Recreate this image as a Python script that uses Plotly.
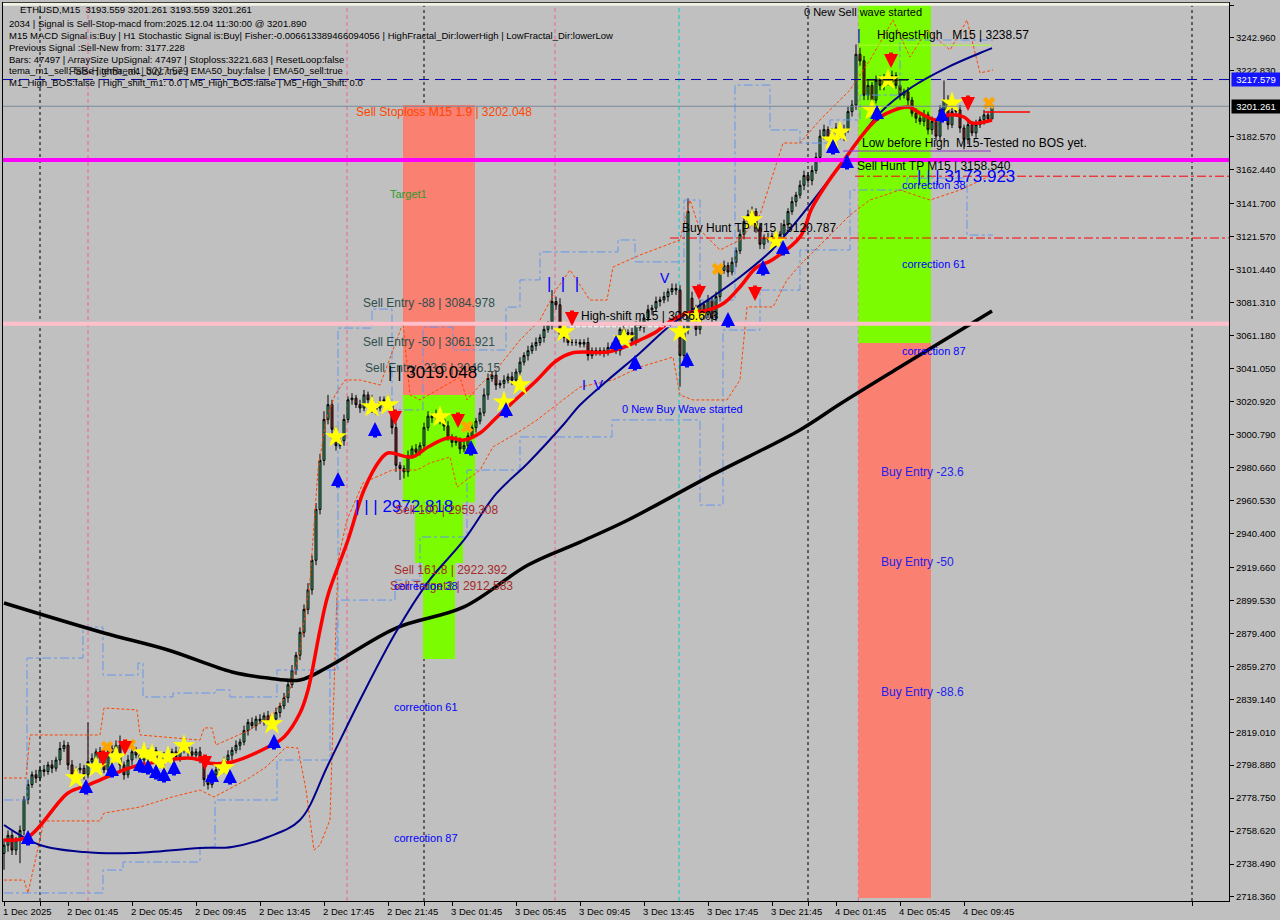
import plotly.graph_objects as go

# ---------------- data ----------------
time_label_bars = [0, 16, 32, 48, 64, 80, 96, 112, 128, 144, 160, 176, 192, 208, 224, 240]
time_labels = ["1 Dec 2025", "2 Dec 01:45", "2 Dec 05:45", "2 Dec 09:45", "2 Dec 13:45",
               "2 Dec 17:45", "2 Dec 21:45", "3 Dec 01:45", "3 Dec 05:45", "3 Dec 09:45",
               "3 Dec 13:45", "3 Dec 17:45", "3 Dec 21:45", "4 Dec 01:45", "4 Dec 05:45",
               "4 Dec 09:45"]
day_sep_bars = [9, 105, 201, 297]
y_ticks = [3263.090, 3242.960, 3222.830, 3182.570, 3162.440, 3141.700, 3121.570, 3101.440,
           3081.310, 3061.180, 3041.050, 3020.920, 3000.790, 2980.660, 2960.530, 2940.400,
           2919.660, 2899.530, 2879.400, 2859.270, 2839.140, 2819.010, 2798.880, 2778.750,
           2758.620, 2738.490, 2718.360]

first_open = 2745.0
closes = [
    2750, 2756, 2747, 2753, 2759, 2778, 2787, 2793, 2791, 2796,
    2795, 2799, 2797, 2802, 2809, 2811, 2799, 2793, 2796, 2797,
    2793, 2801, 2803, 2807, 2803, 2796, 2807, 2809, 2811, 2799,
    2793, 2802, 2807, 2805, 2802, 2807, 2805, 2808, 2803, 2801,
    2805, 2803, 2807, 2804, 2808, 2810, 2807, 2805, 2807, 2802,
    2790, 2787, 2793, 2796, 2797, 2802, 2805, 2808, 2811, 2813,
    2820, 2825, 2823, 2827, 2826, 2829, 2825, 2827, 2831, 2835,
    2840, 2848, 2857, 2866, 2880, 2894, 2906, 2924, 2955, 2985,
    3010, 3019, 3004, 2994, 2997, 3010, 3022, 3023, 3019, 3017,
    3025, 3022, 3016, 3017, 3021, 3022, 3019, 3005, 2982, 2980,
    2978, 2988, 2992, 2990, 2994, 3005, 3012, 3011, 3013, 3010,
    3006, 2999, 2996, 2997, 2992, 2994, 3000, 3005, 3009, 3014,
    3025, 3035, 3037, 3031, 3032, 3034, 3036, 3034, 3039, 3045,
    3049, 3052, 3055, 3057, 3060, 3065, 3068, 3082, 3080, 3062,
    3060, 3057, 3057, 3057, 3056, 3057, 3049, 3052, 3051, 3052,
    3051, 3054, 3055, 3052, 3065, 3062, 3063, 3058, 3068, 3066,
    3072, 3077, 3078, 3082, 3083, 3085, 3088, 3090, 3089, 3049,
    3065, 3137, 3077, 3065, 3080, 3074, 3083, 3072, 3085, 3101,
    3104, 3100, 3106, 3113, 3123, 3131, 3135, 3137, 3127, 3117,
    3121, 3120, 3122, 3120, 3123, 3129, 3137, 3143, 3147, 3153,
    3159, 3156, 3162, 3170, 3183, 3187, 3181, 3185, 3188, 3183,
    3187, 3198, 3202, 3233, 3229, 3208, 3214, 3205, 3217, 3214,
    3218, 3216, 3220, 3214, 3208, 3210, 3205, 3197, 3194, 3192,
    3196, 3187, 3192, 3183, 3199, 3205, 3190, 3198, 3199, 3188,
    3181, 3190, 3185, 3190, 3193, 3196, 3193.559, 3201.261,
]
open_gaps = {172: 3084.0}
up_wick = [
    4, 3, 3, 2, 3, 2, 3, 2, 3, 2,
    3, 2, 3, 2, 4, 3, 2, 3, 2, 3,
    2, 24, 3, 2, 3, 2, 3, 2, 3, 6,
    2, 3, 2, 3, 2, 3, 2, 3, 2, 3,
    2, 3, 2, 3, 2, 3, 2, 3, 2, 3,
    2, 3, 2, 2, 3, 2, 3, 2, 3, 2,
    3, 2, 3, 2, 3, 2, 3, 2, 3, 2,
    3, 2, 3, 2, 3, 3, 4, 3, 4, 4,
    5, 6, 3, 2, 3, 3, 2, 3, 2, 3,
    3, 2, 3, 2, 3, 2, 3, 2, 3, 2,
    2, 3, 2, 3, 2, 3, 3, 2, 3, 2,
    2, 3, 2, 3, 2, 3, 2, 3, 2, 3,
    4, 3, 2, 3, 2, 3, 2, 3, 2, 3,
    2, 3, 2, 3, 2, 3, 2, 7, 3, 4,
    2, 2, 2, 2, 2, 2, 3, 2, 2, 2,
    2, 3, 2, 3, 2, 3, 2, 3, 2, 3,
    2, 3, 2, 3, 2, 3, 2, 3, 3, 3,
    3, 8, 4, 3, 3, 2, 3, 2, 3, 3,
    3, 2, 3, 2, 3, 2, 3, 3, 2, 3,
    2, 3, 2, 3, 2, 3, 2, 3, 2, 3,
    3, 2, 3, 3, 4, 3, 2, 3, 3, 2,
    3, 3, 3, 6, 4, 3, 3, 2, 3, 3,
    3, 3, 3, 2, 3, 2, 3, 2, 3, 2,
    3, 2, 3, 2, 3, 12, 3, 3, 2, 3,
    2, 3, 2, 3, 2, 3, 2, 0,
]
dn_wick = [
    10, 4, 3, 3, 14, 3, 3, 2, 3, 2,
    3, 2, 3, 2, 3, 2, 3, 2, 3, 2,
    3, 2, 3, 2, 3, 2, 3, 2, 3, 4,
    3, 2, 3, 2, 3, 2, 3, 2, 3, 2,
    3, 2, 3, 2, 3, 2, 3, 2, 3, 2,
    4, 3, 2, 3, 2, 3, 2, 3, 2, 3,
    2, 3, 2, 3, 2, 3, 2, 3, 2, 3,
    2, 3, 2, 3, 3, 3, 3, 3, 3, 3,
    3, 3, 6, 3, 2, 3, 2, 3, 2, 3,
    2, 3, 2, 3, 2, 3, 2, 4, 4, 7,
    4, 3, 2, 3, 2, 3, 2, 3, 2, 3,
    3, 2, 3, 2, 3, 2, 3, 2, 3, 2,
    2, 3, 2, 3, 2, 3, 2, 3, 2, 3,
    2, 3, 2, 3, 2, 3, 2, 3, 3, 3,
    3, 2, 2, 2, 2, 2, 3, 2, 2, 2,
    3, 2, 3, 2, 3, 2, 3, 2, 3, 2,
    3, 2, 3, 2, 3, 2, 3, 2, 3, 19,
    4, 3, 8, 4, 3, 3, 2, 3, 2, 3,
    2, 3, 2, 3, 2, 3, 2, 3, 3, 3,
    3, 2, 3, 2, 3, 2, 3, 2, 3, 2,
    3, 2, 3, 2, 3, 2, 3, 2, 3, 2,
    3, 2, 3, 3, 3, 3, 3, 3, 2, 3,
    3, 2, 3, 2, 3, 2, 3, 2, 3, 2,
    3, 3, 3, 3, 3, 3, 3, 2, 3, 3,
    6, 3, 2, 3, 2, 3, 2, 0,
]

# moving averages (sampled)
ma200_bars = [0, 25, 41, 57, 66, 74, 81, 98, 115, 131, 144, 156, 176, 199, 209, 224, 247]
ma200_vals = [2897.9, 2879.6, 2869.2, 2855.8, 2852.1, 2850.9, 2858.8, 2882.6, 2895.5, 2921.1,
              2935.1, 2948.6, 2974.8, 3003.6, 3019.4, 3042.0, 3076.2]
ema50_bars = [0, 9, 20, 32, 49, 57, 66, 74, 81, 89, 98, 106, 115, 123, 131, 140, 144, 151,
              159, 167, 176, 184, 192, 199, 210, 219, 227, 236, 244, 247]
ema50_vals = [2762.3, 2750.1, 2745.8, 2745.2, 2748.3, 2748.9, 2755.0, 2765.4, 2799.0, 2838.7,
              2880.2, 2910.7, 2936.4, 2964.5, 2983.4, 3007.2, 3018.8, 3034.1, 3050.6, 3068.3,
              3083.0, 3097.0, 3113.5, 3133.6, 3168.4, 3197.2, 3213.0, 3225.2, 3233.8, 3236.8]
ema20_bars = [0, 6, 16, 21, 24, 32, 41, 46, 49, 51, 57, 66, 70, 74, 76, 79, 81, 86, 90, 94,
              96, 102, 106, 111, 115, 119, 123, 127, 133, 138, 142, 151, 155, 159, 163, 167,
              171, 176, 180, 184, 188, 192, 199, 202, 206, 210, 215, 219, 226, 229, 233, 236,
              240, 242, 247]
ema20_vals = [2753.2, 2755.0, 2781.9, 2786.7, 2789.8, 2797.7, 2802.0, 2803.2, 2802.0, 2800.2,
              2800.8, 2810.0, 2816.1, 2830.7, 2844.8, 2881.4, 2902.8, 2936.4, 2966.9, 2985.2,
              2989.5, 2987.1, 2993.2, 2998.7, 2997.4, 3001.7, 3010.9, 3020.0, 3033.5, 3045.7,
              3050.6, 3051.2, 3054.2, 3058.5, 3063.4, 3070.7, 3075.0, 3076.8, 3081.1, 3090.9,
              3102.5, 3107.4, 3121.4, 3139.1, 3155.0, 3168.4, 3184.9, 3194.7, 3200.8, 3197.1,
              3192.9, 3195.9, 3194.7, 3191.0, 3192.9]

# envelope-like dashed bands
band_up_bars = [0, 5.5, 6.5, 24, 25, 33.25, 34, 49, 50, 52, 53, 61.5, 67.75, 71.5, 74, 76.5,
                78.5, 80.5, 82.75, 85.25, 89, 94, 99.75, 101.5, 104, 114, 115.75, 119, 124,
                129, 134, 138, 141.5, 146.5, 150.75, 152.25, 159, 169, 171.5, 174, 179, 184,
                189, 194.75, 199, 204, 211.5, 216.5, 222.25, 226.5, 230.75, 236.5, 240.75,
                244, 247.25]
band_up_vals = [2791.0, 2791.0, 2817.3, 2817.3, 2833.8, 2832.6, 2817.3, 2814.2, 2821.6, 2821.6,
                2811.2, 2820.4, 2831.3, 2844.8, 2869.2, 2911.9, 2979.1, 3009.7, 3024.9, 3034.1,
                3034.1, 3031.0, 3068.9, 3024.9, 3021.9, 3035.9, 3021.9, 3031.0, 3043.2, 3058.5,
                3070.7, 3089.1, 3101.3, 3082.9, 3082.9, 3103.1, 3110.4, 3119.6, 3144.0, 3125.7,
                3113.5, 3119.6, 3134.9, 3178.8, 3178.8, 3192.9, 3211.2, 3229.5, 3253.9, 3231.3,
                3247.8, 3235.6, 3253.9, 3221.6, 3223.4]
band_dn_bars = [0, 5, 6, 9, 10, 24, 25, 34, 42, 49, 52.5, 60.5, 65.5, 70.5, 73.5, 75.5, 77.5,
                79, 81.5, 83.5, 85.75, 89.75, 97, 103.25, 106.5, 111.5, 113.25, 119, 122.25,
                128.25, 133.25, 139.75, 144, 152.25, 159, 167.25, 169, 172.25, 180.75, 184,
                185.75, 192.25, 195.75, 199, 204, 211.5, 216.5, 224, 231.5, 239, 247]
band_dn_vals = [2728.7, 2728.7, 2720.8, 2753.2, 2764.8, 2764.8, 2769.6, 2773.3, 2779.4, 2783.7,
                2779.4, 2789.8, 2797.7, 2809.9, 2809.3, 2783.7, 2747.0, 2750.1, 2765.4, 2924.2,
                2948.6, 2971.2, 2979.1, 2979.1, 2983.4, 2987.1, 2968.7, 2979.1, 2993.2, 3001.7,
                3009.7, 3021.9, 3029.8, 3034.1, 3042.0, 3048.1, 3024.9, 3021.9, 3021.9, 3034.1,
                3078.7, 3078.7, 3095.2, 3104.3, 3116.5, 3134.8, 3144.0, 3150.1, 3144.0, 3150.1,
                3159.3]

# stepped channel lines
chan_up_bars = [0, 5.75, 19.75, 24.75, 33.5, 34.75, 42.25, 52.75, 56.5, 68.25, 83.5, 92, 97,
                104.75, 112.25, 125.5, 129, 134, 153.5, 157.75, 170, 174, 182.75, 191.5, 199,
                206.5, 214, 224, 247.25]
chan_up_vals = [2777.6, 2864.3, 2883.2, 2853.9, 2861.2, 2840.5, 2842.9, 2844.8, 2840.5, 2857.0,
                3065.8, 3077.4, 3015.8, 3066.4, 3052.4, 3078.6, 3095.2, 3112.3, 3119.6, 3106.2,
                3144.0, 3082.9, 3214.2, 3186.8, 3178.8, 3192.9, 3208.1, 3241.7, 3241.7]
chan_dn_bars = [0, 24.75, 29.75, 49, 52.75, 68.25, 81.5, 83.25, 97.75, 104, 115.75, 129, 141.5,
                152, 174, 179.75, 189, 199, 211.5, 225.75, 240.75, 247.25]
chan_dn_vals = [2720.8, 2734.8, 2739.7, 2748.9, 2777.6, 2802.0, 2857.0, 2899.7, 2911.9, 2938.2,
                2979.1, 2999.3, 2999.3, 3009.7, 2957.7, 3064.6, 3089.0, 3113.5, 3150.1, 3157.4,
                3122.6, 3122.6]

# signal markers
star_bars = [18, 23, 28, 35, 37, 39, 41, 45, 55, 67, 83, 92, 96, 109, 125, 129, 140, 155, 169,
             173, 187, 193, 207, 209, 217, 221, 237]
star_vals = [2791.0, 2797.7, 2803.9, 2806.3, 2805.1, 2800.2, 2803.9, 2810.6, 2797.1, 2824.0,
             2999.3, 3017.6, 3018.8, 3011.5, 3020.6, 3031.0, 3063.4, 3059.1, 3063.4, 3072.6,
             3131.8, 3119.0, 3180.6, 3185.5, 3199.0, 3217.3, 3203.2]
up_arrow_bars = [6, 20.5, 27, 34, 36, 38, 40, 42.5, 52, 56.5, 67.5, 83.5, 92.75, 116.75, 125.5,
                 153, 157.75, 170.75, 181, 189.75, 194.75, 207.25, 210.75, 218.25, 234.5]
up_arrow_vals = [2754.4, 2785.5, 2795.9, 2799.0, 2797.7, 2794.7, 2792.9, 2797.1, 2792.2, 2791.6,
                 2813.0, 2973.0, 3003.6, 2992.5, 3015.8, 3056.7, 3044.5, 3046.3, 3070.7, 3102.5,
                 3114.7, 3176.4, 3167.2, 3197.2, 3195.9]
dn_arrow_bars = [24.75, 30.25, 50.25, 97.75, 113.5, 142, 173.75, 187.75, 221.75, 241]
dn_arrow_vals = [2803.2, 2810.0, 2800.8, 3011.5, 3009.7, 3071.9, 3087.8, 3087.2, 3229.5, 3203.2]
cross_bars = [25.75, 31.5, 115.75, 178.5, 246.25]
cross_vals = [2810.0, 2811.2, 3005.5, 3101.9, 3203.2]

# levels
level_magenta = 3168.4
level_pink = 3068.5
level_fsb = 3217.579
level_bid = 3201.261
level_buy_hunt = 3120.787
level_sell_hunt = 3158.540
level_highest = 3238.57
level_low_before = 3173.923
level_high_shift = 3066.603
level_sl = 3197.8

info_lines = [
    "ETHUSD,M15  3193.559 3201.261 3193.559 3201.261",
    "2034 | Signal is Sell-Stop-macd from:2025.12.04 11:30:00 @ 3201.890",
    "M15 MACD Signal is:Buy | H1 Stochastic Signal is:Buy| Fisher:-0.006613389466094056 | HighFractal_Dir:lowerHigh | LowFractal_Dir:lowerLow",
    "Previous Signal :Sell-New from: 3177.228",
    "Bars: 47497 | ArraySize UpSignal: 47497 | Stoploss:3221.683 | ResetLoop:false",
    "tema_m1_sell: false | tema_m1_buy: true | EMA50_buy:false | EMA50_sell:true",
    "M1_High_BOS:false | High_shift_m1: 0.0 | M5_High_BOS:false | M5_High_shift: 0.0",
]

NB = "\u00a0"
chart_texts = [
    ("Sell Stoploss M15 1.9 | 3202.048", 87.5, 3197.8, "#FF4500", 12),
    ("Target1", 96, 3147.7, "#2E9B2E", 11),
    ("Sell Entry -88 | 3084.978", 89.25, 3081.1, "#2F4F4F", 12),
    ("Sell Entry -50 | 3061.921", 89.25, 3057.3, "#2F4F4F", 12),
    ("Sell Entry -23.6 | 3046.15", 89.75, 3041.4, "#2F4F4F", 12),
    ("|" + NB + "|" + NB + "3019.048", 95.5, 3038.4, "black", 17),
    ("|" + NB + "|" + NB + "|" + NB + "2972.818", 87.25, 2957.1, "#0000FF", 17),
    ("Sell 100 | 2959.308", 97.25, 2954.7, "#A52A2A", 12),
    ("Sell 161.8 | 2922.392", 97, 2918.1, "#A52A2A", 12),
    ("Sell Target2 | 2912.583", 96, 2908.3, "#A52A2A", 12),
    ("correction 38", 97, 2908.3, "#0000FF", 11),
    ("correction 61", 97, 2834.4, "#0000FF", 11),
    ("correction 87", 97, 2754.4, "#0000FF", 11),
    ("|" + NB + NB + "|" + NB + NB + "|", 135.25, 3093.3, "#0000FF", 17),
    ("High-shift m15 | 3066.603", 143.75, 3073.2, "black", 12),
    ("I" + NB + NB + "V", 144, 3031.0, "#0000FF", 14),
    ("V", 163.5, 3096.4, "#0000FF", 14),
    ("0 New Buy Wave started", 154, 3016.4, "#0000FF", 11),
    ("Buy Hunt TP M15 | 3120.787", 169, 3126.9, "black", 12),
    ("0 New Sell wave started", 199.5, 3258.8, "black", 11),
    ("|", 212.75, 3244.8, "#0000FF", 14),
    ("HighestHigh" + NB * 3 + "M15 | 3238.57", 217.75, 3244.8, "black", 12),
    ("Low before High" + NB * 2 + "M15-Tested no BOS yet.", 214, 3178.8, "black", 12),
    ("Sell Hunt TP M15 | 3158.540", 212.75, 3164.8, "black", 12),
    ("|" + NB + "|" + NB + "|" + NB + "3173.923", 227.75, 3158.1, "#0000FF", 17),
    ("correction 38", 224, 3153.2, "#0000FF", 11),
    ("correction 61", 224, 3104.9, "#0000FF", 11),
    ("correction 87", 224, 3051.8, "#0000FF", 11),
    ("Buy Entry -23.6", 218.75, 2977.9, "#2222EE", 12),
    ("Buy Entry -50", 218.75, 2922.9, "#2222EE", 12),
    ("Buy Entry -88.6", 218.75, 2843.5, "#2222EE", 12),
    ("FSB-HighBreak | 3217.579", 15.75, 3222.2, "#333333", 10),
]

# ---------------- build ----------------
FONT = "Liberation Sans"
n = len(closes)
bars = list(range(n))
opens = [first_open] + closes[:-1]
for k, v in open_gaps.items():
    opens[k] = v
highs = [max(o, c) + u for o, c, u in zip(opens, closes, up_wick)]
lows = [min(o, c) - d for o, c, d in zip(opens, closes, dn_wick)]

fig = go.Figure()

fig.add_trace(go.Scatter(x=chan_up_bars, y=chan_up_vals, mode="lines", line_shape="hv",
                         line=dict(color="#6495ED", width=1, dash="dashdot"), hoverinfo="skip"))
fig.add_trace(go.Scatter(x=chan_dn_bars, y=chan_dn_vals, mode="lines", line_shape="hv",
                         line=dict(color="#6495ED", width=1, dash="dashdot"), hoverinfo="skip"))
fig.add_trace(go.Scatter(x=band_up_bars, y=band_up_vals, mode="lines",
                         line=dict(color="#FF4500", width=1, dash="3px,2px"), hoverinfo="skip"))
fig.add_trace(go.Scatter(x=band_dn_bars, y=band_dn_vals, mode="lines",
                         line=dict(color="#FF4500", width=1, dash="3px,2px"), hoverinfo="skip"))

fig.add_trace(go.Candlestick(
    x=bars, open=opens, high=highs, low=lows, close=closes,
    increasing=dict(fillcolor="#33C47A", line=dict(color="black", width=1)),
    decreasing=dict(fillcolor="#A82828", line=dict(color="black", width=1)),
    whiskerwidth=0, hoverinfo="skip"))

fig.add_trace(go.Scatter(x=ma200_bars, y=ma200_vals, mode="lines", line_shape="spline",
                         line=dict(color="black", width=3.5), hoverinfo="skip"))
fig.add_trace(go.Scatter(x=ema50_bars, y=ema50_vals, mode="lines", line_shape="spline",
                         line=dict(color="#00008B", width=2), hoverinfo="skip"))
fig.add_trace(go.Scatter(x=ema20_bars, y=ema20_vals, mode="lines", line_shape="spline",
                         line=dict(color="#FF0000", width=3.5), hoverinfo="skip"))

fig.add_trace(go.Scatter(x=star_bars, y=star_vals, mode="markers",
                         marker=dict(symbol="star", size=17, color="#FFFF00", line=dict(width=0)),
                         hoverinfo="skip"))
fig.add_trace(go.Scatter(x=cross_bars, y=cross_vals, mode="markers",
                         marker=dict(symbol="x", size=11, color="#FFA500", line=dict(width=0)),
                         hoverinfo="skip"))

# ---------------- shapes ----------------
shapes = []
def rect(x0, x1, y0, y1, color):
    shapes.append(dict(type="rect", xref="x", yref="y", x0=x0, x1=x1, y0=y0, y1=y1,
                       fillcolor=color, line=dict(width=0), layer="below"))

rect(99.75, 117.75, 3025.0, 3202.048, "#FA8072")
rect(99.75, 117.75, 2959.308, 3025.0, "#7CFC00")
rect(102.75, 114.75, 2922.392, 2959.308, "#7CFC00")
rect(104.75, 112.75, 2863.7, 2922.392, "#7CFC00")
rect(213.6, 231.75, 3056.7, 3263.1, "#7CFC00")
rect(213.6, 231.75, 2717.8, 3056.7, "#FA8072")

def vline(xv, color, dash, width=1):
    shapes.append(dict(type="line", xref="x", yref="paper", x0=xv, x1=xv, y0=0, y1=1,
                       line=dict(color=color, width=width, dash=dash), layer="below"))

for b in day_sep_bars:
    vline(b, "black", "3px,3px")
for b in [21, 85.75, 137.75, 213.6]:
    vline(b, "#F06292", "4px,3px")
vline(168.75, "#00CED1", "4px,3px")

def hline(yv, color, width, dash="solid", x0=None, x1=None):
    if x0 is None:
        shapes.append(dict(type="line", xref="paper", yref="y", x0=0, x1=1, y0=yv, y1=yv,
                           line=dict(color=color, width=width, dash=dash)))
    else:
        shapes.append(dict(type="line", xref="x", yref="y", x0=x0, x1=x1, y0=yv, y1=yv,
                           line=dict(color=color, width=width, dash=dash)))

hline(level_bid, "#778899", 1)
hline(level_fsb, "#0000AA", 1, "10px,6px")
hline(level_magenta, "#FF00FF", 4)
hline(level_pink, "#FFC0CB", 4)
hline(level_buy_hunt, "#FF0000", 1, "dashdot", 166.5, 306.25)
hline(level_sell_hunt, "#FF0000", 1, "dashdot", 212.75, 306.25)
hline(level_highest, "#ADFF2F", 1, "solid", 213.75, 246.75)
hline(level_low_before, "#9932CC", 1, "solid", 209.75, 246.75)
hline(level_high_shift, "white", 1, "4px,2px", 141.5, 166.5)
hline(level_sl, "#FF0000", 1.5, "solid", 245, 256.5)
hline(3217.3, "black", 1, "solid", 215.5, 226)
shapes.append(dict(type="line", xref="paper", yref="paper", x0=0, x1=1, y0=0.9985, y1=0.9985,
                   line=dict(color="#F2F2E4", width=3)))

# ---------------- annotations ----------------
ann = []
# signal arrows (stemmed) drawn as annotation arrows
for b, v in zip(up_arrow_bars, up_arrow_vals):
    ann.append(dict(x=b, y=v, xref="x", yref="y", text="", showarrow=True, arrowhead=2,
                    arrowsize=0.7, arrowwidth=4, arrowcolor="#0000FF", ax=0, ay=17, yshift=8))
for b, v in zip(dn_arrow_bars, dn_arrow_vals):
    ann.append(dict(x=b, y=v, xref="x", yref="y", text="", showarrow=True, arrowhead=2,
                    arrowsize=0.7, arrowwidth=4, arrowcolor="#FF0000", ax=0, ay=-17, yshift=-8))

for t, b, v, col, sz in chart_texts:
    ann.append(dict(x=b, y=v, xref="x", yref="y", text=t, showarrow=False, xanchor="left",
                    yanchor="middle", font=dict(family=FONT, size=sz, color=col)))

info_y = [10, 23, 35, 47, 59, 71, 83]
for k, line in enumerate(info_lines):
    px = 18 if k == 0 else 7
    ann.append(dict(x=(px - 3) / 1226, y=1 - (info_y[k] - 3) / 898, xref="paper", yref="paper",
                    text=line.replace("  ", NB + NB), showarrow=False, xanchor="left",
                    yanchor="middle", font=dict(family=FONT, size=9.5, color="black")))

for b, lab in zip(time_label_bars, time_labels):
    ann.append(dict(x=b, y=0, xref="x", yref="paper", text=lab, showarrow=False,
                    xanchor="left", yanchor="top", xshift=-3, yshift=-3,
                    font=dict(family=FONT, size=9.5, color="black")))

for val, bg in [(level_fsb, "#1414FF"), (level_bid, "black")]:
    ann.append(dict(x=1, y=val, xref="paper", yref="y", text=f"{val:.3f}", showarrow=False,
                    xanchor="left", yanchor="middle", xshift=2, bgcolor=bg, borderpad=1,
                    width=46, font=dict(family=FONT, size=9.5, color="white")))

fig.update_layout(
    width=1280, height=920,
    margin=dict(l=3, r=51, t=3, b=19),
    paper_bgcolor="#C0C0C0", plot_bgcolor="#C0C0C0",
    showlegend=False, shapes=shapes, annotations=ann,
    xaxis=dict(range=[-0.25, 306.25], showgrid=False, zeroline=False, rangeslider=dict(visible=False),
               tickvals=time_label_bars + day_sep_bars, ticks="outside", ticklen=4,
               tickcolor="black", showticklabels=False, showline=True, linecolor="black",
               linewidth=1, mirror=True),
    yaxis=dict(range=[2715.91, 3264.32], side="right", showgrid=False, zeroline=False,
               tickvals=y_ticks, ticktext=[f"{v:.3f}" for v in y_ticks], ticks="outside",
               ticklen=4, tickcolor="black", showline=True, linecolor="black", linewidth=1,
               mirror=True, tickfont=dict(family=FONT, size=9.5, color="black")),
)

fig.write_html("out.html", config={"displayModeBar": False},
               post_script="document.body.style.margin='0px';document.body.style.padding='0px';"
                           "document.body.style.overflow='hidden';")
